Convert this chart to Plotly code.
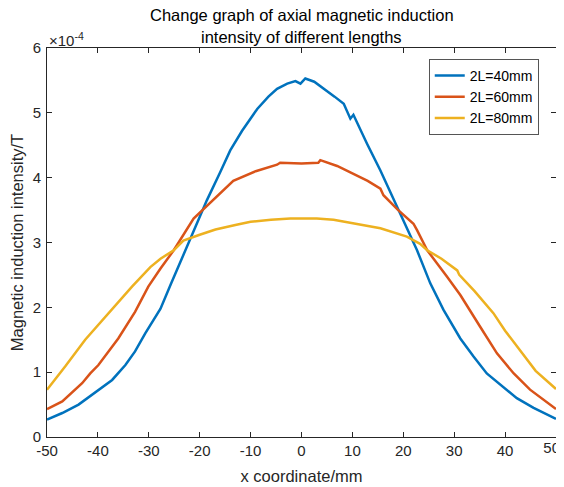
import plotly.graph_objects as go

# ---- data (y in units of 1e-4 T) ----
x40 = [-50, -47, -43.8, -39.9, -37.2, -34.6, -32.7, -30.7, -27.7, -25.6, -22.8, -20.5, -18.6, -16, -14,
       -11.7, -10.5, -8.7, -6.5, -4.8, -2.8, -1.2, -0.2, 0.75, 2.5, 4.3, 6.5, 8.3, 9.6, 10.2, 11.5, 12.9,
       15.5, 18, 20, 22.7, 25.3, 27.9, 31.2, 33.8, 36.4, 39.1, 42.3, 45.6, 50]
y40 = [0.27, 0.37, 0.50, 0.73, 0.88, 1.11, 1.32, 1.60, 1.98, 2.37, 2.88, 3.28, 3.65, 4.08, 4.42,
       4.72, 4.85, 5.06, 5.25, 5.37, 5.45, 5.49, 5.45, 5.53, 5.48, 5.37, 5.25, 5.14, 4.91, 4.97, 4.75, 4.52,
       4.11, 3.68, 3.35, 2.88, 2.37, 1.96, 1.52, 1.24, 0.98, 0.80, 0.60, 0.45, 0.28]

x60 = [-50, -47, -43.1, -41.5, -39.9, -36, -32.7, -30.1, -27.7, -25.1, -21.2, -17.5, -13.9, -13.4, -9,
       -4.8, -4.2, -2, 0, 3.3, 3.7, 7, 10.2, 13, 15.5, 16.1, 19, 22, 22.7, 24.7, 28.6, 31.2, 35.1, 38.4,
       41.7, 44.9, 50]
y60 = [0.43, 0.55, 0.83, 0.98, 1.11, 1.52, 1.93, 2.32, 2.60, 2.88, 3.37, 3.65, 3.91, 3.95, 4.10,
       4.20, 4.23, 4.22, 4.22, 4.23, 4.27, 4.18, 4.06, 3.95, 3.83, 3.73, 3.50, 3.29, 3.19, 2.88, 2.47, 2.19,
       1.70, 1.29, 0.98, 0.73, 0.43]

x80 = [-50, -46.4, -42.5, -37.9, -33.3, -29.7, -28.7, -27.7, -25.1, -23.2, -20, -16.9, -13, -10, -6,
       -2.2, 0, 3, 6.3, 10, 15.5, 20.7, 23.3, 24.7, 27.5, 30.6, 31, 34, 37.7, 40, 42.9, 46, 50]
y80 = [0.73, 1.09, 1.50, 1.91, 2.32, 2.62, 2.68, 2.75, 2.88, 3.03, 3.12, 3.20, 3.27, 3.32, 3.35,
       3.37, 3.37, 3.37, 3.35, 3.30, 3.22, 3.09, 2.98, 2.88, 2.75, 2.57, 2.50, 2.25, 1.91, 1.64, 1.34, 1.02, 0.74]

series_names = ["2L=40mm", "2L=60mm", "2L=80mm"]
series_colors = ["#0072BD", "#D95319", "#EDB120"]

x_ticks = [-50, -40, -30, -20, -10, 0, 10, 20, 30, 40, 50]
y_ticks = [0, 1, 2, 3, 4, 5, 6]

title_lines = ["Change graph of axial magnetic induction", "intensity of different lengths"]

FONT = "Liberation Sans, Arial, sans-serif"
AX = "#262626"

# page has an 8px body margin, so the figure is drawn 8px in from the top-left
W, H = 556, 479
ML, MR, MT, MB = 39, 8, 40, 50
H_PLOT = H - MT - MB
TOP_PAGE = MT + 8


def ypaper(ypage):
    return 1 + (TOP_PAGE - ypage) / H_PLOT


fig = go.Figure()
for xs, ys, nm, col in zip([x40, x60, x80], [y40, y60, y80], series_names, series_colors):
    fig.add_trace(go.Scatter(x=xs, y=ys, mode="lines", name=nm,
                             line=dict(color=col, width=2.5)))

axis_common = dict(showline=True, linecolor=AX, linewidth=1, mirror="ticks",
                   ticks="inside", ticklen=5, tickcolor=AX, showgrid=False, zeroline=False,
                   automargin=False, ticklabeloverflow="allow",
                   tickfont=dict(family=FONT, size=15, color=AX))

# all x labels but the last one centred on their ticks; the last one is drawn
# by an overlaid axis, right-aligned, so it stays inside the page as in the reference
fig.update_xaxes(range=[-50, 50], tickvals=x_ticks, ticktext=[str(v) for v in x_ticks[:-1]] + [""],
                 title=dict(text="x coordinate/mm", font=dict(family=FONT, size=16.5, color=AX), standoff=12),
                 **axis_common)
fig.update_yaxes(range=[0, 6], tickvals=y_ticks, ticktext=[str(v) for v in y_ticks],
                 ticklabelstandoff=2,
                 title=dict(text="Magnetic induction intensity/T", font=dict(family=FONT, size=16.5, color=AX), standoff=5),
                 **axis_common)

annotations = []
for line, ypix in zip(title_lines, [15.5, 36.5]):
    annotations.append(dict(text=line, xref="paper", yref="paper", x=0.5,
                            y=ypaper(ypix), xanchor="center", yanchor="middle",
                            showarrow=False, font=dict(family=FONT, size=16.5, color="black")))
annotations.append(dict(text="\u00d710<sup>-4</sup>", xref="paper", yref="paper", x=0.0,
                        y=ypaper(39), xanchor="left", yanchor="middle", showarrow=False,
                        font=dict(family=FONT, size=15, color=AX)))

fig.update_layout(
    width=W, height=H,
    margin=dict(l=ML, r=MR, t=MT, b=MB, autoexpand=False),
    paper_bgcolor="white", plot_bgcolor="white",
    showlegend=True,
    xaxis2=dict(overlaying="x", matches="x", side="bottom", range=[-50, 50],
                tickvals=x_ticks[-1:], ticktext=[str(x_ticks[-1])],
                ticks="", showline=False, showgrid=False, zeroline=False,
                automargin=False, ticklabeloverflow="allow",
                ticklabelposition="outside left", ticklabelshift=4,
                tickfont=dict(family=FONT, size=15, color=AX)),
    legend=dict(x=0.75, y=ypaper(59), xanchor="left", yanchor="top",
                bgcolor="white", bordercolor="#555555", borderwidth=1,
                font=dict(family=FONT, size=14, color="black"),
                tracegroupgap=0, itemwidth=30),
    annotations=annotations,
)
# invisible helper trace so the overlaid axis is drawn
fig.add_trace(go.Scatter(x=[x_ticks[0], x_ticks[-1]], y=[None, None], xaxis="x2", yaxis="y",
                         mode="lines", showlegend=False, hoverinfo="skip"))

fig.write_html("out.html")
